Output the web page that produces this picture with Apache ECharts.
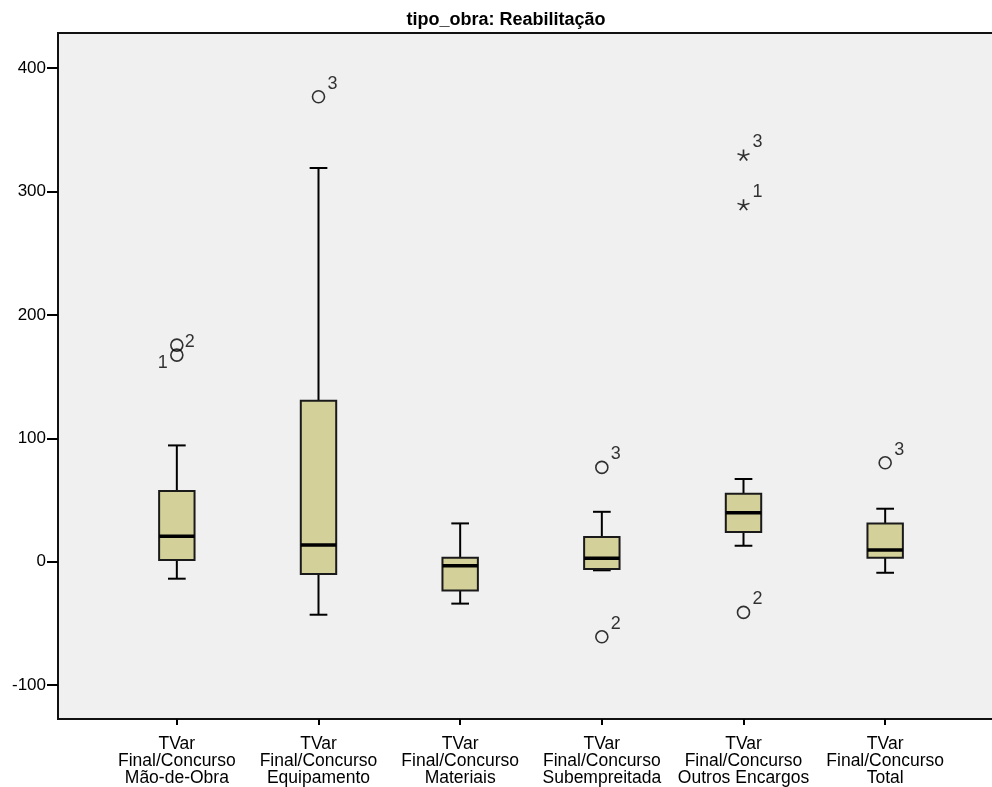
<!DOCTYPE html>
<html>
<head>
<meta charset="utf-8">
<script src="https://cdn.jsdelivr.net/npm/echarts@6/dist/echarts.min.js"></script>
<style>html,body{margin:0;padding:0;background:#fff}#c{width:992px;height:787px}</style>
</head>
<body>
<div id="c"></div>
<script>
// ---- data ----
const titleText = 'tipo_obra: Reabilitação';
const categories = [
  'TVar\nFinal/Concurso\nMão-de-Obra',
  'TVar\nFinal/Concurso\nEquipamento',
  'TVar\nFinal/Concurso\nMateriais',
  'TVar\nFinal/Concurso\nSubempreitada',
  'TVar\nFinal/Concurso\nOutros Encargos',
  'TVar\nFinal/Concurso\nTotal'
];
const whiskerLow  = [-13.8, -43.0, -34.0, -7.0, 12.9, -9.0];
const q1          = [  1.3, -10.0, -23.3, -6.0, 24.0,  3.2];
const median      = [ 20.5,  13.5,  -3.3,  2.7, 39.6,  9.4];
const q3          = [ 57.2, 130.4,   3.2, 19.9, 55.0, 31.0];
const whiskerHigh = [ 94.2, 319.0,  31.0, 40.4, 67.0, 42.9];
// outliers: category index, value, case id, kind ('o' = outlier, '*' = extreme)
const outlierCat   = [0, 0, 1, 3, 3, 4, 4, 4, 5];
const outlierValue = [175.5, 167.4, 376.7, 76.4, -60.9, 329.5, 289.3, -41.1, 80.1];
const outlierId    = ['2', '1', '3', '3', '2', '3', '1', '2', '3'];
const outlierKind  = ['o', 'o', 'o', 'o', 'o', '*', '*', 'o', 'o'];
const yTicks = [-100, 0, 100, 200, 300, 400];
const yMin = -127.5, yMax = 428.4;

// ---- chart ----
const FONT = '"Liberation Sans", Arial, sans-serif';
const chart = echarts.init(document.getElementById('c'), null, {renderer: 'canvas'});

const boxData = categories.map((c, i) => [i, whiskerLow[i], q1[i], median[i], q3[i], whiskerHigh[i]]);

function labelOffset(k) {
  if (outlierCat[k] === 0 && outlierId[k] === '1') return [-14, 8];
  if (outlierCat[k] === 0 && outlierId[k] === '2') return [13, -3];
  return [14, -13];
}
const circleData = [], starData = [];
outlierCat.forEach((c, k) => {
  const item = {
    value: [c, outlierValue[k]],
    label: {show: true, formatter: outlierId[k], position: 'inside', offset: labelOffset(k)}
  };
  (outlierKind[k] === '*' ? starData : circleData).push(item);
});

const starPath = 'path://M0 0L0 -10M0 0L9.51 -3.09M0 0L-9.51 -3.09M0 0L-5.88 8.09M0 0L5.88 8.09';
const labelStyle = {color: '#000', fontSize: 18, fontFamily: FONT};

const option = {
  animation: false,
  backgroundColor: '#ffffff',
  graphic: [{
    type: 'text', x: 506, y: 20,
    style: {text: titleText, font: 'bold 18px ' + FONT, fill: '#000', align: 'center', verticalAlign: 'middle'}
  }],
  grid: [
    {left: 58, top: 33, right: -12, bottom: 68, show: true, backgroundColor: '#f0f0f0', borderColor: '#111', borderWidth: 2, outerBoundsMode: 'none'},
    {left: 106, top: 33, width: 850, bottom: 68, outerBoundsMode: 'none'}
  ],
  xAxis: [
    {gridIndex: 0, type: 'value', show: false, min: 0, max: 1},
    {
      gridIndex: 1, type: 'category', data: categories, boundaryGap: true, position: 'bottom',
      axisLine: {show: false, onZero: false},
      axisTick: {show: true, alignWithLabel: true, length: 6, lineStyle: {color: '#000', width: 2}},
      axisLabel: {color: '#000', fontSize: 17.5, lineHeight: 17, fontFamily: FONT, margin: 17, interval: 0}
    }
  ],
  yAxis: [
    {
      gridIndex: 0, type: 'value', min: yMin, max: yMax,
      splitLine: {show: false},
      axisLine: {show: false},
      axisTick: {show: true, length: 11, lineStyle: {color: '#000', width: 2}, customValues: yTicks},
      axisLabel: {color: '#000', fontSize: 17, fontFamily: FONT, margin: 12, customValues: yTicks}
    },
    {gridIndex: 1, type: 'value', min: yMin, max: yMax, show: false, splitLine: {show: false}}
  ],
  series: [
    {
      type: 'custom', xAxisIndex: 1, yAxisIndex: 1,
      data: boxData,
      encode: {x: 0, y: [1, 2, 3, 4, 5]},
      renderItem: function (params, api) {
        const x = api.value(0);
        const pLo = api.coord([x, api.value(1)]);
        const pQ1 = api.coord([x, api.value(2)]);
        const pMd = api.coord([x, api.value(3)]);
        const pQ3 = api.coord([x, api.value(4)]);
        const pHi = api.coord([x, api.value(5)]);
        const band = api.size([1, 0])[0];
        const bw = band * 0.25, cw = band * 0.125;
        const cx = pMd[0];
        const ls = {stroke: '#000', lineWidth: 2};
        return {
          type: 'group',
          children: [
            {type: 'line', shape: {x1: cx, y1: pLo[1], x2: cx, y2: pQ1[1]}, style: ls},
            {type: 'line', shape: {x1: cx, y1: pQ3[1], x2: cx, y2: pHi[1]}, style: ls},
            {type: 'line', shape: {x1: cx - cw / 2, y1: pLo[1], x2: cx + cw / 2, y2: pLo[1]}, style: ls},
            {type: 'line', shape: {x1: cx - cw / 2, y1: pHi[1], x2: cx + cw / 2, y2: pHi[1]}, style: ls},
            {type: 'rect', shape: {x: cx - bw / 2, y: pQ3[1], width: bw, height: pQ1[1] - pQ3[1]},
              style: {fill: '#d4d09a', stroke: '#1a1a1a', lineWidth: 2}},
            {type: 'line', shape: {x1: cx - bw / 2, y1: pMd[1], x2: cx + bw / 2, y2: pMd[1]},
              style: {stroke: '#000', lineWidth: 3.5}}
          ]
        };
      }
    },
    {
      type: 'scatter', xAxisIndex: 1, yAxisIndex: 1,
      symbol: 'circle', symbolSize: 12,
      itemStyle: {color: 'rgba(0,0,0,0)', borderColor: '#000', borderWidth: 1.6},
      label: labelStyle,
      data: circleData
    },
    {
      type: 'scatter', xAxisIndex: 1, yAxisIndex: 1,
      symbol: starPath, symbolSize: [12, 11],
      itemStyle: {color: 'rgba(0,0,0,0)', borderColor: '#000', borderWidth: 1.6},
      label: labelStyle,
      data: starData
    }
  ]
};
chart.setOption(option);
</script>
</body>
</html>
